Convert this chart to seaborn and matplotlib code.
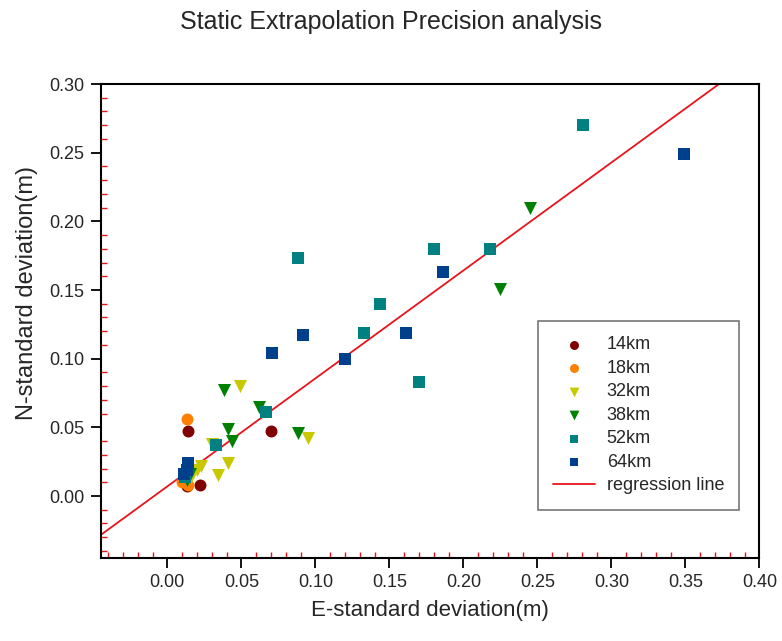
import matplotlib
matplotlib.use("Agg")
import matplotlib.pyplot as plt
from matplotlib.ticker import MultipleLocator
import numpy as np
import pandas as pd
import seaborn as sns

# series labels, colours and markers
groups = ["14km", "18km", "32km", "38km", "52km", "64km"]
colors = ["#800000", "#ff8000", "#c8c800", "#008000", "#008080", "#003f8c"]
markers = ["o", "o", "v", "v", "s", "s"]
sizes = [74, 74, 88, 88, 63, 63]

# E / N standard deviations (m)
e_14 = [0.014, 0.070, 0.022, 0.013]
n_14 = [0.047, 0.047, 0.008, 0.007]
e_18 = [0.013, 0.010, 0.014, 0.012]
n_18 = [0.056, 0.010, 0.008, 0.012]
e_32 = [0.049, 0.095, 0.041, 0.034, 0.023, 0.020, 0.030, 0.016]
n_32 = [0.080, 0.042, 0.024, 0.015, 0.022, 0.019, 0.038, 0.014]
e_38 = [0.245, 0.225, 0.038, 0.062, 0.088, 0.041, 0.044, 0.013, 0.015]
n_38 = [0.210, 0.151, 0.077, 0.065, 0.046, 0.049, 0.040, 0.012, 0.016]
e_52 = [0.281, 0.088, 0.180, 0.218, 0.144, 0.133, 0.170, 0.067, 0.033, 0.012]
n_52 = [0.270, 0.173, 0.180, 0.180, 0.140, 0.119, 0.083, 0.061, 0.037, 0.014]
e_64 = [0.349, 0.186, 0.161, 0.120, 0.092, 0.071, 0.014, 0.013, 0.011]
n_64 = [0.249, 0.163, 0.119, 0.100, 0.117, 0.104, 0.024, 0.019, 0.016]

# regression line N = slope * E + intercept
reg_slope = 0.786
reg_intercept = 0.007

x_range = (-0.045, 0.40)
y_range = (-0.045, 0.30)

e_all = [e_14, e_18, e_32, e_38, e_52, e_64]
n_all = [n_14, n_18, n_32, n_38, n_52, n_64]
df = pd.concat(
    [pd.DataFrame({"E": e, "N": n, "group": g}) for e, n, g in zip(e_all, n_all, groups)],
    ignore_index=True,
)

sns.set_style("white")
plt.rcParams["font.family"] = ["Liberation Sans", "DejaVu Sans"]

fig = plt.figure(figsize=(7.82, 6.41), dpi=100)
ax = fig.add_axes([0.1288, 0.1298, 0.8422, 0.7391])

for g, c, m, s in zip(groups, colors, markers, sizes):
    sub = df[df["group"] == g]
    sns.scatterplot(data=sub, x="E", y="N", color=c, marker=m, s=s,
                    linewidth=0, label=g, ax=ax, zorder=3)

xs = np.array(x_range)
ax.plot(xs, reg_slope * xs + reg_intercept, color="#e8141c", lw=1.3,
        label="regression line", zorder=2)

ax.set_xlim(*x_range)
ax.set_ylim(*y_range)

ax.xaxis.set_minor_locator(MultipleLocator(0.01))
ax.yaxis.set_minor_locator(MultipleLocator(0.01))
ax.set_xticks(np.arange(0, 0.401, 0.05))
ax.set_yticks(np.arange(0, 0.301, 0.05))
ax.xaxis.set_major_formatter(matplotlib.ticker.FuncFormatter(lambda v, p: f"{v:.2f}"))
ax.yaxis.set_major_formatter(matplotlib.ticker.FuncFormatter(lambda v, p: f"{v:.2f}"))

ax.tick_params(which="major", direction="out", length=7, width=1.3,
               color="black", labelsize=13, pad=5,
               bottom=True, left=True, top=False, right=False)
ax.tick_params(which="minor", direction="in", length=4, width=1.0,
               color="#e8141c", bottom=True, left=True, top=False, right=False)

for sp in ax.spines.values():
    sp.set_color("black")
    sp.set_linewidth(1.5)

ax.set_xlabel("E-standard deviation(m)", fontsize=16, labelpad=6)
ax.set_ylabel("N-standard deviation(m)", fontsize=17, labelpad=8, y=0.559)
fig.suptitle("Static Extrapolation Precision analysis", fontsize=18, y=0.985)

leg = ax.legend(loc="upper left", bbox_to_anchor=(0.664, 0.50), fontsize=13,
                markerscale=0.75, labelspacing=0.36, handlelength=2.3,
                handletextpad=0.65, borderpad=0.85, borderaxespad=0,
                frameon=True, fancybox=False)
leg.get_frame().set_edgecolor("#555555")
leg.get_frame().set_linewidth(1.2)

fig.savefig("out.png", dpi=100)
